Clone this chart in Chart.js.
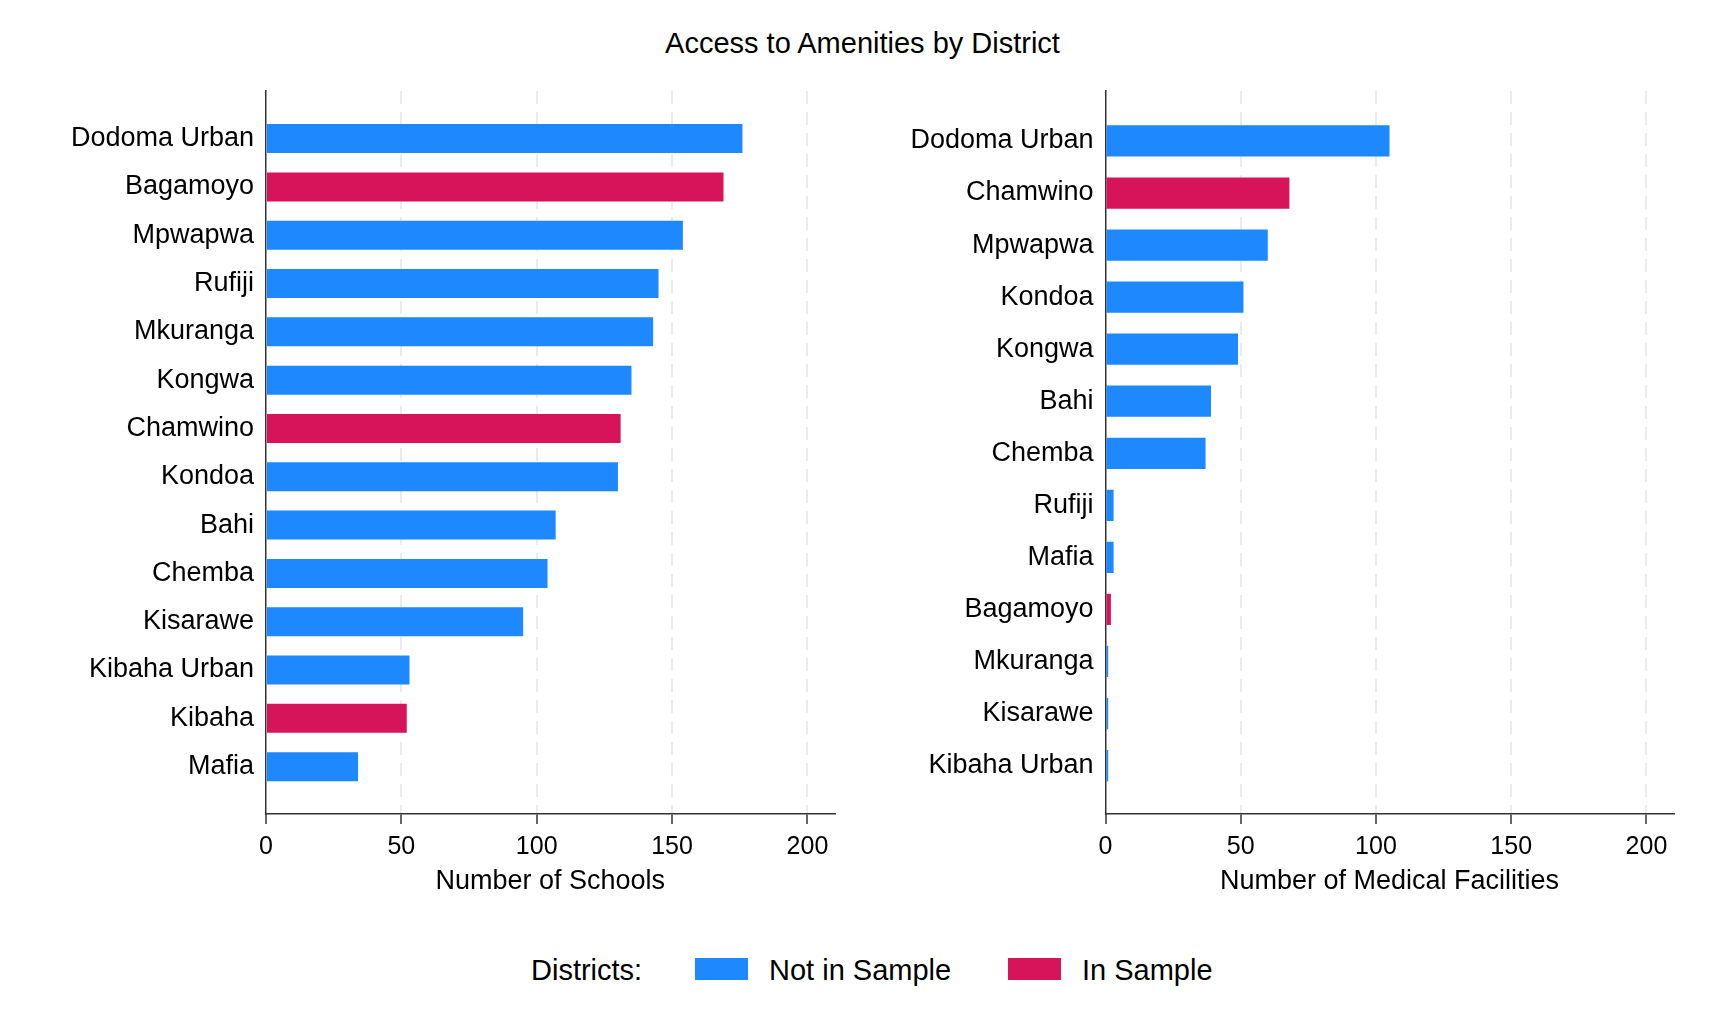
<!DOCTYPE html>
<html>
<head>
<meta charset="utf-8">
<script src="https://cdn.jsdelivr.net/npm/chart.js@4/dist/chart.umd.min.js"></script>
<style>
  html, body { margin: 0; padding: 0; background: #ffffff; }
  body { width: 1725px; height: 1035px; position: relative; overflow: hidden;
         font-family: "Liberation Sans", Arial, sans-serif; color: #000; }
  #title { position: absolute; left: 0; width: 1725px; top: 29px; text-align: center;
           font-size: 29px; line-height: 29px; white-space: nowrap; }
  .cv { position: absolute; top: 0; }
  #leftWrap { left: 0; width: 862px; height: 900px; }
  #rightWrap { left: 862px; width: 863px; height: 900px; }
  .lg { position: absolute; font-size: 29px; line-height: 29px; top: 956px; white-space: nowrap; }
  .box { position: absolute; top: 958px; width: 53px; height: 22px; }
</style>
</head>
<body>
<div id="title">Access to Amenities by District</div>
<div class="cv" id="leftWrap"><canvas id="schools"></canvas></div>
<div class="cv" id="rightWrap"><canvas id="medical"></canvas></div>

<div class="lg" style="left:531px">Districts:</div>
<div class="box" id="boxNot" style="left:695px"></div>
<div class="lg" style="left:769px">Not in Sample</div>
<div class="box" id="boxIn" style="left:1008px"></div>
<div class="lg" style="left:1082px">In Sample</div>

<script>
// ---- data ----
const schoolDistricts = ['Dodoma Urban', 'Bagamoyo', 'Mpwapwa', 'Rufiji', 'Mkuranga', 'Kongwa', 'Chamwino',
  'Kondoa', 'Bahi', 'Chemba', 'Kisarawe', 'Kibaha Urban', 'Kibaha', 'Mafia'];
const schoolCounts = [176, 169, 154, 145, 143, 135, 131, 130, 107, 104, 95, 53, 52, 34];

const medicalDistricts = ['Dodoma Urban', 'Chamwino', 'Mpwapwa', 'Kondoa', 'Kongwa', 'Bahi', 'Chemba',
  'Rufiji', 'Mafia', 'Bagamoyo', 'Mkuranga', 'Kisarawe', 'Kibaha Urban'];
const medicalCounts = [105, 68, 60, 51, 49, 39, 37, 3, 3, 2, 1, 1, 1];

const inSampleDistricts = ['Bagamoyo', 'Chamwino', 'Kibaha'];
const xTickValues = [0, 50, 100, 150, 200];
const legendLabels = ['Not in Sample', 'In Sample'];

// ---- styles ----
const BLUE = '#1e88ff';
const RED = '#d7145a';
const AXIS = '#333333';
const GRID = '#ebebeb';
const FONT = '"Liberation Sans", Arial, sans-serif';

document.getElementById('boxNot').style.background = BLUE;
document.getElementById('boxIn').style.background = RED;

function makeChart(canvasId, districts, counts, axisTitle, yAxisWidth, padRight, padLo, padHi) {
  const n = districts.length;
  const points = counts.map((v, i) => ({ x: v, y: i }));
  const colors = districts.map(d => inSampleDistricts.includes(d) ? RED : BLUE);
  return new Chart(document.getElementById(canvasId), {
    type: 'bar',
    data: {
      datasets: [{
        data: points,
        backgroundColor: colors,
        borderWidth: 0,
        barPercentage: 0.6,
        categoryPercentage: 1.0
      }]
    },
    options: {
      indexAxis: 'y',
      responsive: true,
      maintainAspectRatio: false,
      animation: false,
      events: [],
      layout: { padding: { top: 91, right: padRight, bottom: 0, left: 0 } },
      plugins: { legend: { display: false }, title: { display: false }, tooltip: { enabled: false } },
      scales: {
        x: {
          type: 'linear',
          position: 'bottom',
          min: 0, max: 210,
          afterBuildTicks: (s) => { s.ticks = xTickValues.map(v => ({ value: v })); },
          afterFit: (s) => { s.height = 86; },
          ticks: {
            color: '#000',
            font: { family: FONT, size: 25 },
            padding: 8,
            maxRotation: 0,
            autoSkip: false
          },
          grid: {
            color: (c) => (c.tick && c.tick.value === 0) ? 'rgba(0,0,0,0)' : GRID,
            lineWidth: 2,
            drawTicks: true,
            tickLength: 10,
            tickColor: AXIS,
            tickWidth: 1.5
          },
          border: { display: true, color: AXIS, width: 1.5, dash: [13, 8] },
          title: {
            display: true,
            text: axisTitle,
            color: '#000',
            font: { family: FONT, size: 27 },
            padding: { top: 4, bottom: 2 }
          }
        },
        y: {
          type: 'linear',
          reverse: true,
          offset: false,
          min: -padLo, max: n - 1 + padHi,
          afterBuildTicks: (s) => { s.ticks = districts.map((d, i) => ({ value: i })); },
          afterFit: (s) => { s.width = yAxisWidth; },
          ticks: {
            color: '#000',
            font: { family: FONT, size: 27 },
            padding: 12,
            autoSkip: false,
            callback: (v) => districts[v] !== undefined ? districts[v] : ''
          },
          grid: { display: false, drawTicks: false, offset: false },
          border: { display: true, color: AXIS, width: 1.5 }
        }
      }
    }
  });
}

makeChart('schools', schoolDistricts, schoolCounts, 'Number of Schools', 266, 27.5, 0.985, 0.98);
makeChart('medical', medicalDistricts, medicalCounts, 'Number of Medical Facilities', 243.5, 51.5, 0.96, 0.93);
</script>
</body>
</html>
